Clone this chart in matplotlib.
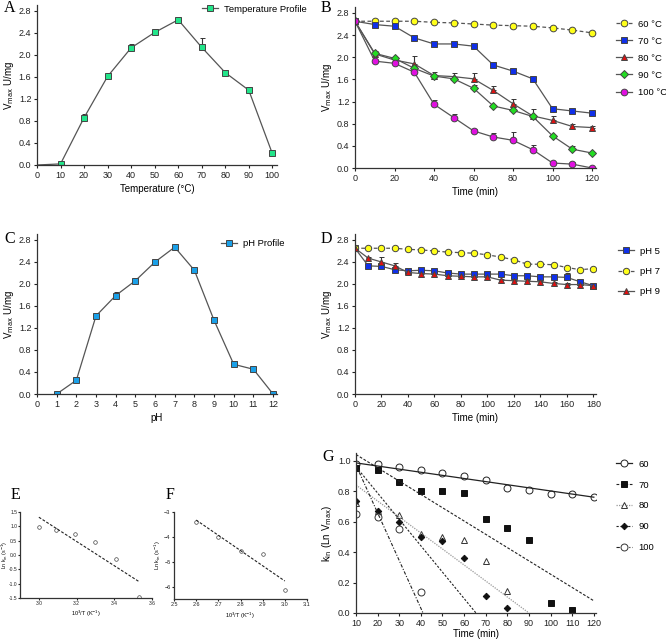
import numpy as np
import matplotlib
matplotlib.use("Agg")
import matplotlib.pyplot as plt

plt.rcParams['font.family'] = ['Liberation Sans', 'DejaVu Sans']
plt.rcParams['axes.linewidth'] = 0.9
plt.rcParams['axes.edgecolor'] = '#333333'

# ---------------- data ----------------
temp_x = [0, 10, 20, 30, 40, 50, 60, 70, 80, 90, 100]
temp_y = [0.0, 0.02, 0.86, 1.61, 2.13, 2.41, 2.64, 2.14, 1.68, 1.36, 0.21]
temp_err = [0, 0.0, 0.07, 0.06, 0.07, 0.06, 0.03, 0.17, 0.04, 0.05, 0.02]

tB = [0, 10, 20, 30, 40, 50, 60, 70, 80, 90, 100, 110, 120]
b60 = [2.65, 2.65, 2.65, 2.65, 2.63, 2.62, 2.60, 2.58, 2.57, 2.56, 2.53, 2.49, 2.44]
b70 = [2.65, 2.59, 2.56, 2.35, 2.24, 2.24, 2.20, 1.86, 1.75, 1.61, 1.07, 1.03, 0.99]
b80 = [2.65, 2.06, 1.95, 1.88, 1.67, 1.65, 1.61, 1.40, 1.16, 0.94, 0.86, 0.75, 0.73]
b90 = [2.65, 2.07, 1.98, 1.80, 1.66, 1.61, 1.44, 1.12, 1.04, 0.93, 0.58, 0.34, 0.27]
b100 = [2.65, 1.93, 1.89, 1.73, 1.15, 0.91, 0.67, 0.56, 0.50, 0.33, 0.09, 0.07, 0.0]
e60 = [0] * 13
e70 = [0, 0.02, 0.02, 0.03, 0.02, 0.02, 0.02, 0.03, 0.04, 0.02, 0.03, 0.02, 0.02]
e80 = [0, 0.05, 0.04, 0.14, 0.06, 0.06, 0.10, 0.08, 0.08, 0.12, 0.07, 0.04, 0.02]
e90 = [0, 0.02, 0.03, 0.03, 0.02, 0.02, 0.06, 0.02, 0.02, 0.02, 0.02, 0.06, 0.02]
e100 = [0, 0.02, 0.02, 0.03, 0.07, 0.06, 0.04, 0.08, 0.15, 0.09, 0.02, 0.03, 0.0]
b_labels = ['60 °C', '70 °C', '80 °C', '90 °C', '100 °C']

ph_x = [1, 2, 3, 4, 5, 6, 7, 8, 9, 10, 11, 12]
ph_y = [0.0, 0.25, 1.42, 1.79, 2.06, 2.40, 2.67, 2.25, 1.34, 0.54, 0.45, 0.0]
ph_err = [0, 0.0, 0.02, 0.07, 0.05, 0.02, 0.06, 0.02, 0.06, 0.06, 0.05, 0]

tD = [0, 10, 20, 30, 40, 50, 60, 70, 80, 90, 100, 110, 120, 130, 140, 150, 160, 170, 180]
d5 = [2.65, 2.33, 2.32, 2.26, 2.24, 2.25, 2.24, 2.20, 2.18, 2.18, 2.18, 2.18, 2.15, 2.15, 2.13, 2.13, 2.12, 2.04, 1.97]
d7 = [2.65, 2.65, 2.65, 2.65, 2.63, 2.62, 2.60, 2.58, 2.57, 2.56, 2.53, 2.49, 2.44, 2.36, 2.36, 2.35, 2.30, 2.26, 2.28]
d9 = [2.65, 2.47, 2.40, 2.33, 2.21, 2.19, 2.18, 2.15, 2.14, 2.13, 2.13, 2.07, 2.06, 2.05, 2.04, 2.01, 1.99, 1.99, 1.97]
de5 = [0, 0.02, 0.02, 0.02, 0.02, 0.02, 0.02, 0.02, 0.02, 0.02, 0.02, 0.02, 0.03, 0.02, 0.03, 0.02, 0.08, 0.02, 0.02]
de7 = [0] * 19
de9 = [0, 0.03, 0.10, 0.06, 0.02, 0.02, 0.02, 0.02, 0.02, 0.02, 0.02, 0.02, 0.02, 0.02, 0.02, 0.02, 0.02, 0.02, 0.02]
d_labels = ['pH 5', 'pH 7', 'pH 9']

e_x = [3.00, 3.09, 3.19, 3.30, 3.41, 3.53]
e_y = [0.97, 0.88, 0.75, 0.47, -0.14, -1.45]
f_x = [2.60, 2.70, 2.80, 2.90, 3.00]
f_y = [-3.40, -4.00, -4.55, -4.67, -6.13]

tG = [10, 20, 30, 40, 50, 60, 70, 80, 90, 100, 110, 120]
g60 = [0.978, 0.976, 0.956, 0.936, 0.92, 0.90, 0.87, 0.82, 0.81, 0.78, 0.78, 0.76]
g70 = [0.954, 0.94, 0.857, 0.80, 0.80, 0.79, 0.62, 0.56, 0.48, 0.068, 0.018]
g80 = [0.72, 0.67, 0.64, 0.52, 0.50, 0.48, 0.34, 0.145]
g90 = [0.737, 0.67, 0.594, 0.50, 0.47, 0.36, 0.11, 0.03]
g100 = [0.65, 0.63, 0.55, 0.14]
# fitted lines (start x, start y, end x, end y)
fit60 = [10, 0.985, 120, 0.76]
fit70 = [10, 1.04, 120, 0.08]
fit80 = [10, 0.84, 90, 0.0]
fit90 = [10, 0.96, 65.5, 0.0]
fit100 = [10, 0.97, 41, 0.0]
g_labels = ['60', '70', '80', '90', '100']

# ---------------- figure ----------------
W, H = 666, 642
fig = plt.figure(figsize=(W / 100, H / 100), dpi=100)

def add_axes(x0, x1, ytop, ybot):
    return fig.add_axes([x0 / W, 1 - ybot / H, (x1 - x0) / W, (ybot - ytop) / H])

def style(ax, fs=6.5):
    ax.spines['top'].set_visible(False)
    ax.spines['right'].set_visible(False)
    ax.tick_params(labelsize=fs, length=2.5, width=0.8, pad=1.5, colors='#222222')

LINE = '#555555'
EDGE = '#444444'
lab_fs = 7
leg_kw = dict(frameon=False, fontsize=6.8, handlelength=1.7, handletextpad=0.7, borderpad=0,
              bbox_transform=fig.transFigure)

def ylab(ax):
    ax.set_ylabel('V$_{\\mathrm{max}}$ U/mg', fontsize=lab_fs, labelpad=2)

def letter(x, y, s):
    fig.text(x / W, 1 - y / H, s, fontsize=11.5, family='Liberation Serif', va='center', ha='left')

def errplot(ax, x, y, err, **kw):
    lo = np.zeros(len(err))
    c = ax.errorbar(x, y, yerr=[lo, err], capsize=1.8, elinewidth=0.8, capthick=0.8,
                    ecolor='#333333', **kw)
    return c.lines[0]

# ---- A ----
axA = add_axes(37, 277, 5.5, 165)
style(axA)
errplot(axA, temp_x, temp_y, temp_err, color=LINE, lw=0.9, marker='s', ms=5,
        mfc='#22e58a', mec=EDGE, mew=0.7, markevery=list(range(1, 11)))
axA.set_xlim(0, 102)
axA.set_ylim(0, 2.9)
axA.set_xticks(np.arange(0, 101, 10))
axA.set_yticks(np.arange(0, 2.81, 0.4))
axA.set_yticklabels([f'{v:.1f}' for v in np.arange(0, 2.81, 0.4)])
axA.set_xlabel('Temperature (°C)', fontsize=lab_fs, labelpad=3)
ylab(axA)
hAl = plt.Line2D([], [], color=LINE, lw=0.9, marker='s', ms=5, mfc='#22e58a', mec=EDGE, mew=0.7)
axA.legend([hAl], ['Temperature Profile'], loc='center left', bbox_to_anchor=(197 / W, 1 - 9 / H), **leg_kw)
letter(4, 8, 'A')

# ---- B ----
axB = add_axes(355, 596, 7.4, 168)
style(axB)
specB = [
    (b60, e60, 'o', '#ffff1a', (0, (3, 2))),
    (b70, e70, 's', '#1030e8', '-'),
    (b80, e80, '^', '#e01010', '-'),
    (b90, e90, 'D', '#22dd22', '-'),
    (b100, e100, 'o', '#e010e0', '-'),
]
hB = []
for (yv, ev, mk, col, ls) in specB:
    ms = 5 if mk == 's' else (3.8 if mk == 'D' else 4.8)
    hB.append(errplot(axB, tB, yv, ev, color=LINE, lw=0.9, ls=ls, marker=mk, ms=ms, mfc=col,
                      mec=EDGE, mew=0.7))
axB.set_xlim(0, 122)
axB.set_ylim(0, 2.9)
axB.set_xticks(np.arange(0, 121, 20))
axB.set_yticks(np.arange(0, 2.81, 0.4))
axB.set_yticklabels([f'{v:.1f}' for v in np.arange(0, 2.81, 0.4)])
axB.set_xlabel('Time (min)', fontsize=lab_fs, labelpad=3)
ylab(axB)
axB.legend(hB, b_labels, loc='upper left', bbox_to_anchor=(611 / W, 1 - 15 / H),
           labelspacing=0.85, **leg_kw)
letter(321, 8, 'B')

# ---- C ----
axC = add_axes(37, 277, 234.5, 394)
style(axC)
errplot(axC, ph_x, ph_y, ph_err, color=LINE, lw=0.9, marker='s', ms=5, mfc='#1aa0e8', mec=EDGE,
        mew=0.7)
axC.set_xlim(0, 12.2)
axC.set_ylim(0, 2.9)
axC.set_xticks(range(0, 13))
axC.set_yticks(np.arange(0, 2.81, 0.4))
axC.set_yticklabels([f'{v:.1f}' for v in np.arange(0, 2.81, 0.4)])
axC.set_xlabel('pH', fontsize=lab_fs, labelpad=3)
ylab(axC)
hCl = plt.Line2D([], [], color=LINE, lw=0.9, marker='s', ms=5, mfc='#1aa0e8', mec=EDGE, mew=0.7)
axC.legend([hCl], ['pH Profile'], loc='center left', bbox_to_anchor=(216 / W, 1 - 244 / H), **leg_kw)
letter(4, 239, 'C')

# ---- D ----
axD = add_axes(355, 596, 234.5, 394)
style(axD)
specD = [
    (d5, de5, 's', '#1030e8', '-'),
    (d7, de7, 'o', '#ffff1a', (0, (3, 2))),
    (d9, de9, '^', '#e01010', '-'),
]
hD = []
for (yv, ev, mk, col, ls) in specD:
    ms = 5 if mk == 's' else 4.6
    hD.append(errplot(axD, tD, yv, ev, color=LINE, lw=0.9, ls=ls, marker=mk, ms=ms, mfc=col,
                      mec=EDGE, mew=0.7))
axD.set_xlim(0, 182)
axD.set_ylim(0, 2.9)
axD.set_xticks(np.arange(0, 181, 20))
axD.set_yticks(np.arange(0, 2.81, 0.4))
axD.set_yticklabels([f'{v:.1f}' for v in np.arange(0, 2.81, 0.4)])
axD.set_xlabel('Time (min)', fontsize=lab_fs, labelpad=3)
ylab(axD)
axD.legend(hD, d_labels, loc='upper left', bbox_to_anchor=(613 / W, 1 - 242 / H),
           labelspacing=1.2, **leg_kw)
letter(321, 239, 'D')

# ---- E ----
small_fs = 4
axE = add_axes(20, 152, 512, 598)
style(axE, fs=3.6)
axE.plot(e_x, e_y, 'o', ms=2.6, mfc='none', mec='#444444', mew=0.5)
cE = np.polyfit(e_x, e_y, 1)
xe = np.array([e_x[0], e_x[-1]])
axE.plot(xe, np.polyval(cE, xe), color='#222222', lw=0.8, ls=(0, (2.5, 1.5)))
axE.set_xlim(2.9, 3.6)
axE.set_ylim(-1.5, 1.5)
axE.set_xticks([3.0, 3.2, 3.4, 3.6])
axE.set_yticks(np.arange(-1.5, 1.51, 0.5))
axE.set_yticklabels([f'{v:.1f}' for v in np.arange(-1.5, 1.51, 0.5)])
axE.set_xticklabels(['3.0', '3.2', '3.4', '3.6'])
axE.tick_params(length=1.5, pad=0.5)
axE.set_xlabel('10$^3$/T (K$^{-1}$)', fontsize=small_fs, labelpad=2)
axE.set_ylabel('Ln k$_{\\mathrm{in}}$ (s$^{-1}$)', fontsize=3.8)
axE.yaxis.set_label_coords(-10.5 / 132, 0.5)
letter(11, 495, 'E')

# ---- F ----
axF = add_axes(174, 307, 512, 599)
style(axF, fs=small_fs)
axF.plot(f_x, f_y, 'o', ms=2.6, mfc='none', mec='#444444', mew=0.5)
cF = np.polyfit(f_x, f_y, 1)
xf = np.array([f_x[0], f_x[-1]])
axF.plot(xf, np.polyval(cF, xf), color='#222222', lw=0.8, ls=(0, (2.5, 1.5)))
axF.set_xlim(2.5, 3.1)
axF.set_ylim(-6.5, -3)
axF.set_xticks([2.5, 2.6, 2.7, 2.8, 2.9, 3.0, 3.1])
axF.set_yticks([-3, -4, -5, -6])
axF.tick_params(length=1.5, pad=1)
axF.set_xlabel('10$^3$/T (K$^{-1}$)', fontsize=small_fs, labelpad=2)
axF.set_ylabel('Ln k$_{\\mathrm{in}}$ (s$^{-1}$)', fontsize=small_fs, labelpad=1)
letter(166, 495, 'F')

# ---- G ----
axG = add_axes(356, 596, 453, 613)
style(axG)
specG = [
    (g60, fit60, 'o', 'white', '#222222', '-', 0.9, '#222222'),
    (g70, fit70, 's', '#111111', '#111111', (0, (2.5, 1.5)), 0.8, '#222222'),
    (g80, fit80, '^', 'white', '#333333', (0, (1, 1)), 0.9, '#999999'),
    (g90, fit90, 'D', '#111111', '#111111', (0, (2, 1.5)), 0.8, '#222222'),
    (g100, fit100, 'o', 'white', '#333333', (0, (3, 1.5, 1, 1.5)), 0.8, '#222222'),
]
hG = []
for (yv, fit, mk, fc, ec, ls, lw, lc) in specG:
    ms = 3.3 if mk == 'D' else (4.3 if mk == 's' else 5)
    axG.plot(tG[:len(yv)], yv, ls='none', marker=mk, ms=ms, mfc=fc, mec=ec, mew=0.7)
    axG.plot([fit[0], fit[2]], [fit[1], fit[3]], color=lc, lw=lw, ls=ls)
    hG.append(plt.Line2D([], [], color=lc, lw=lw, ls=ls, marker=mk, ms=ms, mfc=fc, mec=ec, mew=0.7))
axG.set_xlim(10, 121)
axG.set_ylim(0, 1.05)
axG.set_xticks(np.arange(10, 121, 10))
axG.set_yticks(np.arange(0, 1.01, 0.2))
axG.set_yticklabels([f'{v:.1f}' for v in np.arange(0, 1.01, 0.2)])
axG.set_xlabel('Time (min)', fontsize=lab_fs, labelpad=1)
axG.set_ylabel('k$_{\\mathrm{In}}$ (Ln V$_{\\mathrm{max}}$)', fontsize=lab_fs, labelpad=3)
axG.legend(hG, g_labels, loc='upper left', bbox_to_anchor=(611 / W, 1 - 455 / H),
           labelspacing=1.25, **leg_kw)
letter(322, 457, 'G')

fig.savefig('out.png', dpi=100)
